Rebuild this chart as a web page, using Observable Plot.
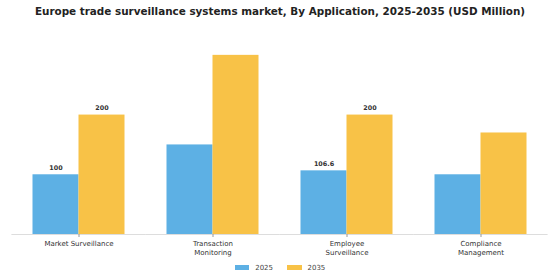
<!DOCTYPE html>
<html>
<head>
<meta charset="utf-8">
<script src="https://cdn.jsdelivr.net/npm/d3@7"></script>
<script src="https://cdn.jsdelivr.net/npm/@observablehq/plot@0.6"></script>
<style>
  html, body { margin: 0; padding: 0; background: #fff; }
  body { width: 560px; height: 280px; overflow: hidden; font-family: "DejaVu Sans", sans-serif; }
  #title { height: 22px; line-height: 23px; text-align: center; font-weight: bold; font-size: 10.4px; color: #222; white-space: nowrap; }
  #legend { height: 19px; display: flex; justify-content: center; align-items: center; font-size: 7px; color: #444; }
  .item { display: flex; align-items: center; margin: 0 7px; }
  .sw { width: 14.5px; height: 5px; margin-right: 6px; }
</style>
</head>
<body>
<div id="title">Europe trade surveillance systems market, By Application, 2025-2035 (USD Million)</div>
<div id="chart"></div>
<div id="legend"></div>
<script>
const categories = ["Market Surveillance", "Transaction\nMonitoring", "Employee\nSurveillance", "Compliance\nManagement"];
const years = ["2025", "2035"];
const values2025 = [100, 150, 106.6, 100];
const values2035 = [200, 300, 200, 170];
const labels2025 = ["100", "", "106.6", ""];
const labels2035 = ["200", "", "200", ""];
const colors = ["#5DB0E4", "#F8C247"];

const data = [];
categories.forEach((c, i) => {
  data.push({category: c, year: years[0], value: values2025[i], label: labels2025[i]});
  data.push({category: c, year: years[1], value: values2035[i], label: labels2035[i]});
});

const chart = Plot.plot({
  width: 560,
  height: 236,
  marginTop: 3,
  marginBottom: 24,
  marginLeft: 11.5,
  marginRight: 12.4,
  style: {fontFamily: "DejaVu Sans", fontSize: "7px", color: "#333", background: "#fff"},
  fx: {domain: categories, paddingInner: 0.305, paddingOuter: 0.15, label: null},
  x: {domain: years, padding: 0, axis: null},
  y: {domain: [0, 350], axis: null},
  color: {domain: years, range: colors},
  marks: [
    Plot.ruleY([0], {stroke: "#ddd", strokeWidth: 1, insetLeft: -20.6, insetRight: -20.6}),
    Plot.barY(data, {fx: "category", x: "year", y: "value", fill: "year"}),
    Plot.text(data, {fx: "category", x: "year", y: "value", text: "label", dy: -7, fontSize: 6.4, fontWeight: "bold", fill: "#333"}),
    Plot.axisFx({anchor: "bottom", tickSize: 3, tickPadding: 3, lineHeight: 1.2, fontSize: 7, label: null, stroke: "#999", fill: "#333"})
  ]
});
document.getElementById("chart").appendChild(chart);

const legend = document.getElementById("legend");
years.forEach((y, i) => {
  const item = document.createElement("div");
  item.className = "item";
  const sw = document.createElement("span");
  sw.className = "sw";
  sw.style.background = colors[i];
  const t = document.createElement("span");
  t.textContent = y;
  item.appendChild(sw);
  item.appendChild(t);
  legend.appendChild(item);
});
</script>
</body>
</html>
